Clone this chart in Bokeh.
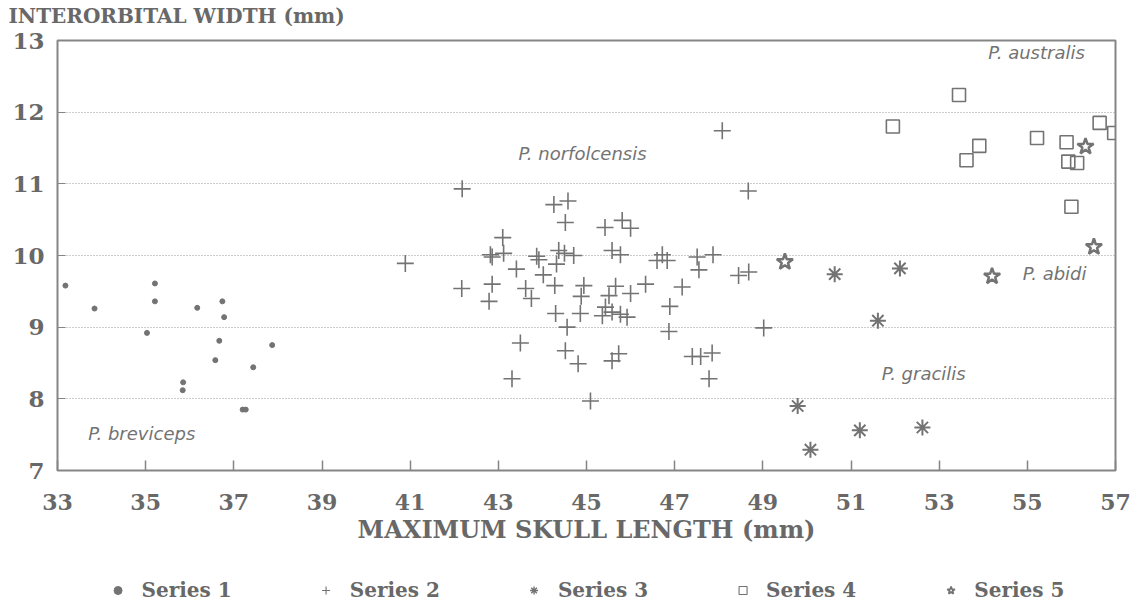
from bokeh.plotting import figure
from bokeh.layouts import column
from bokeh.models import Range1d, FixedTicker, Legend, LegendItem
from bokeh.core.properties import value
from bokeh.embed import file_html
from bokeh.resources import INLINE

# ---- data ----
s1_x = [33.18, 33.84, 35.21, 35.21, 35.03, 35.85, 35.84, 36.17, 36.74, 36.78, 36.67, 36.58, 37.20, 37.27, 37.44, 37.87]
s1_y = [9.58, 9.26, 9.61, 9.36, 8.92, 8.23, 8.12, 9.27, 9.36, 9.14, 8.81, 8.54, 7.85, 7.85, 8.44, 8.75]

s2_x = [42.18, 40.89, 43.10, 42.82, 42.86, 43.12, 43.87, 43.92, 43.41, 44.02, 42.17, 42.86, 42.79, 43.62, 43.75,
        43.50, 43.31, 44.26, 44.58, 44.52, 45.42, 45.81, 46.00, 44.37, 44.50, 44.71, 44.32, 45.58, 45.77, 46.72,
        46.60, 46.83, 47.51, 47.87, 47.55, 48.45, 48.68, 44.28, 44.94, 44.88, 45.66, 45.51, 46.00, 46.34, 47.17,
        46.89, 44.30, 44.86, 45.43, 45.36, 45.58, 45.77, 45.92, 44.56, 46.87, 44.52, 44.81, 45.58, 45.73, 47.40,
        47.59, 47.85, 47.78, 45.09, 48.08, 48.67, 49.02]
s2_y = [10.93, 9.89, 10.25, 10.01, 9.98, 10.03, 9.99, 9.94, 9.81, 9.73, 9.54, 9.60, 9.36, 9.54, 9.40,
        8.78, 8.28, 10.71, 10.76, 10.46, 10.39, 10.49, 10.38, 10.07, 10.03, 10.00, 9.88, 10.07, 10.01, 10.01,
        9.93, 9.93, 9.98, 10.01, 9.80, 9.72, 9.77, 9.58, 9.58, 9.43, 9.57, 9.44, 9.47, 9.60, 9.56,
        9.29, 9.19, 9.19, 9.28, 9.16, 9.21, 9.18, 9.14, 9.00, 8.94, 8.67, 8.49, 8.53, 8.63, 8.59,
        8.59, 8.64, 8.28, 7.97, 11.74, 10.90, 8.99]

s3_x = [50.63, 52.11, 51.61, 49.79, 50.08, 51.20, 52.62]
s3_y = [9.74, 9.82, 9.09, 7.90, 7.29, 7.56, 7.60]

s4_x = [51.95, 53.45, 53.62, 53.91, 55.22, 55.89, 55.93, 56.13, 56.64, 56.97, 56.00]
s4_y = [11.80, 12.24, 11.33, 11.53, 11.64, 11.58, 11.31, 11.29, 11.85, 11.71, 10.68]

s5_x = [49.50, 54.20, 56.32, 56.51]
s5_y = [9.91, 9.71, 11.52, 10.12]

series_names = ["Series 1", "Series 2", "Series 3", "Series 4", "Series 5"]

x_ticks = [33, 35, 37, 39, 41, 43, 45, 47, 49, 51, 53, 55, 57]
y_ticks = [7, 8, 9, 10, 11, 12, 13]
grid_ticks = [8, 9, 10, 11, 12]

species_names = ["P. breviceps", "P. norfolcensis", "P. australis", "P. abidi", "P. gracilis"]
species_x = [34.91, 44.91, 55.21, 55.62, 52.65]
species_y = [7.52, 11.43, 12.83, 9.75, 8.35]

x_title = "MAXIMUM SKULL LENGTH (mm)"
y_title = "INTERORBITAL WIDTH (mm)"

# ---- styling ----
GREY = "#737373"
TXT = "#686868"
SERIF = "DejaVu Serif"
W = 1140

# ---- title strip above the chart (the y-axis title sits top-left) ----
p0 = figure(width=W, height=28, x_range=Range1d(0, W), y_range=Range1d(0, 28),
            output_backend="svg", toolbar_location=None, min_border=0,
            x_axis_location=None, y_axis_location=None)
p0.frame_align = False
p0.outline_line_color = None
p0.grid.visible = False
p0.text(x=[8], y=[13], text=[y_title], text_font=value(SERIF), text_font_style="bold",
        text_font_size="20px", text_color=TXT, text_align="left", text_baseline="middle")

# ---- main chart ----
p = figure(width=W, height=528, x_range=Range1d(33, 57), y_range=Range1d(7, 13),
           output_backend="svg", toolbar_location=None,
           min_border_left=57, min_border_right=25, min_border_top=12, min_border_bottom=86)
p.background_fill_color = "white"
p.border_fill_color = "white"
p.outline_line_color = "#858585"
p.outline_line_width = 2

xa = p.xaxis[0]
xa.ticker = FixedTicker(ticks=x_ticks)
xa.major_tick_in = 10
xa.major_tick_out = 0
xa.major_tick_line_color = "#858585"
xa.major_tick_line_width = 1.5
xa.minor_tick_line_color = None
xa.axis_line_color = None
xa.major_label_standoff = 23
xa.major_label_text_font = SERIF
xa.major_label_text_font_style = "bold"
xa.major_label_text_font_size = "22px"
xa.major_label_text_color = TXT
xa.axis_label = x_title
xa.axis_label_standoff = 2
xa.axis_label_text_font = SERIF
xa.axis_label_text_font_style = "bold"
xa.axis_label_text_font_size = "24px"
xa.axis_label_text_color = TXT

ya = p.yaxis[0]
ya.ticker = FixedTicker(ticks=y_ticks)
ya.major_tick_in = 8
ya.major_tick_out = 0
ya.major_tick_line_color = "#858585"
ya.minor_tick_line_color = None
ya.axis_line_color = None
ya.major_label_standoff = 13
ya.major_label_text_font = SERIF
ya.major_label_text_font_style = "bold"
ya.major_label_text_font_size = "23px"
ya.major_label_text_color = TXT

p.xgrid.visible = False
p.ygrid.ticker = FixedTicker(ticks=grid_ticks)
p.ygrid.grid_line_color = "#9a9a9a"
p.ygrid.grid_line_dash = "1 2"
p.ygrid.grid_line_width = 1

styles = [
    dict(marker="circle", size=5, line_color=GREY, fill_color=GREY),
    dict(marker="cross", size=17, line_color=GREY, line_width=1.6),
    dict(marker="asterisk", size=16, line_color=GREY, line_width=2),
    dict(marker="square", size=13, line_color=GREY, fill_color=None, line_width=1.6),
    dict(marker="star", size=17, line_color=GREY, fill_color=None, line_width=2.5),
]
xs = [s1_x, s2_x, s3_x, s4_x, s5_x]
ys = [s1_y, s2_y, s3_y, s4_y, s5_y]
for x, y, st in zip(xs, ys, styles):
    p.scatter(x, y, **st)

p.text(x=species_x, y=species_y, text=species_names, text_font=value("DejaVu Sans"),
       text_font_style="italic", text_font_size="18px", text_color=GREY,
       text_align="center", text_baseline="middle")

# ---- legend strip below the chart (its renderers hold one real point each,
#      which falls outside this strip's range, so only the legend shows) ----
p2 = figure(width=W, height=46, x_range=Range1d(0, 1), y_range=Range1d(0, 1),
            output_backend="svg", toolbar_location=None, min_border=0,
            x_axis_location=None, y_axis_location=None)
p2.outline_line_color = None
p2.grid.visible = False
leg_renderers = []
for x, y, st in zip(xs, ys, styles):
    st2 = dict(st)
    st2["line_width"] = max(1.0, st.get("line_width", 1.0) * 0.7)
    leg_renderers.append(p2.scatter(x=x[:1], y=y[:1], **st2))

legend = Legend(items=[LegendItem(label=n, renderers=[r]) for n, r in zip(series_names, leg_renderers)],
                orientation="horizontal", location="bottom_center",
                border_line_color=None, background_fill_alpha=0, padding=0, margin=0,
                spacing=84, label_standoff=14, glyph_width=20, glyph_height=20,
                label_text_font=SERIF, label_text_font_style="bold", label_text_font_size="20px",
                label_text_color=TXT)
p2.add_layout(legend)

open("out.html", "w").write(file_html(column(p0, p, p2, spacing=0), INLINE))
